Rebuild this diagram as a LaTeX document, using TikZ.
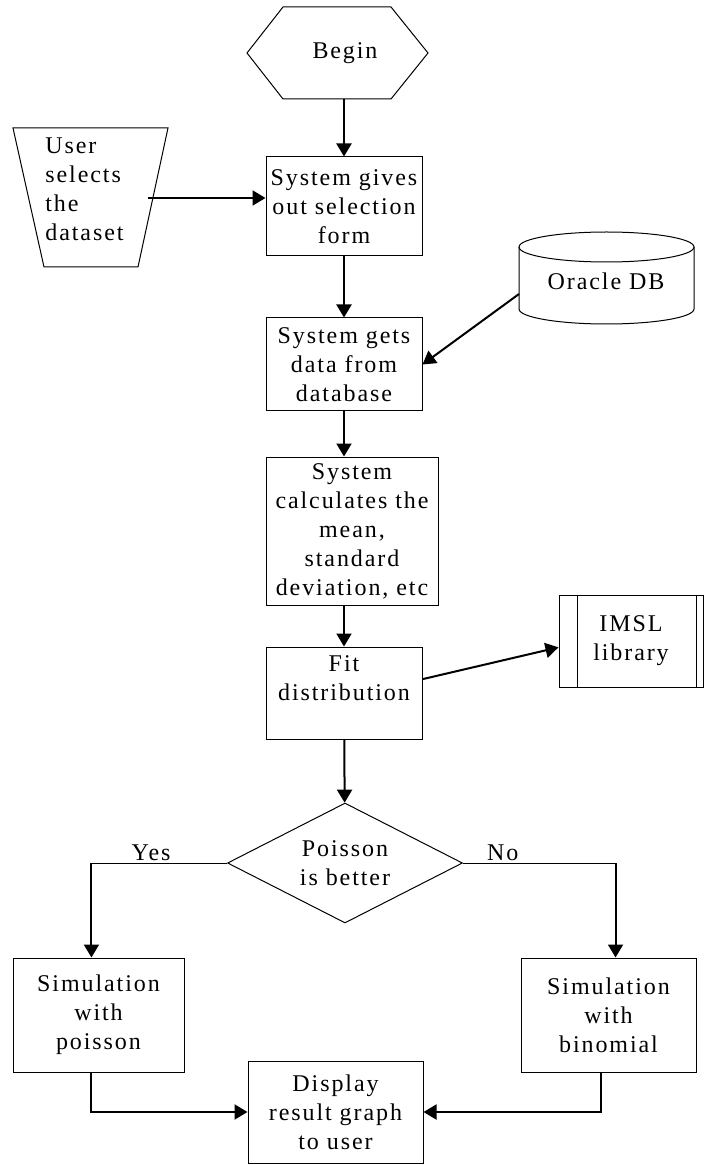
\documentclass[tikz,border=0pt]{standalone}
\usepackage{fontspec}
\setmainfont[LetterSpace=8]{Liberation Serif}
\usetikzlibrary{shapes.geometric,arrows.meta}
\begin{document}
\begin{tikzpicture}[x=0.5pt, y=-0.5pt, >={Triangle[length=6.5pt,width=7.5pt]},
  box/.style={draw, line width=0.5pt, align=center, inner sep=1pt},
  flow/.style={->, line width=1pt},
  font=\fontsize{12}{14.5}\selectfont]
\useasboundingbox (0,0) rectangle (704,1165);
% start and user input
\draw[line width=0.5pt] (247,53) -- (283,7) -- (391,7) -- (428,53) -- (391,99) -- (283,99) -- cycle;
\node (a) at (345,53) {Begin};
\coordinate (aout) at (344,99);
\draw[line width=0.5pt] (13,128) -- (168,128) -- (138,267) -- (44,267) -- cycle;
\node[align=left, anchor=north west, inner sep=0pt] (u) at (45,137) {User\\selects\\the\\dataset};
\coordinate (uout) at (148,198);
% main column
\node[box, minimum width=78pt, minimum height=49.5pt] (b) at (344,206.5) {System gives\\out selection\\form};
\node[box, minimum width=78pt, minimum height=46.5pt] (c) at (344,364.5) {System gets\\data from\\database};
\node[box, minimum width=86pt, minimum height=74pt] (d) at (352,531) {System\\calculates the\\mean,\\standard\\deviation, etc};
\node[box, minimum width=78pt, minimum height=46pt] (e) at (344,693) {Fit\\distribution\\~};
% database and library
\draw[line width=0.5pt] (606.5,247) ellipse [x radius=43.75pt, y radius=7.5pt];
\draw[line width=0.5pt] (519,247) -- (519,309) arc[start angle=180, end angle=360, x radius=43.75pt, y radius=7.5pt] -- (694,247);
\node (db) at (606,281) {Oracle DB};
\coordinate (dbout) at (519,294);
\node[box, minimum width=72pt, minimum height=46pt] (f) at (631,641) {IMSL\\library};
\draw[line width=0.5pt] ([xshift=9.5pt]f.north west) -- ([xshift=9.5pt]f.south west);
\draw[line width=0.5pt] ([xshift=-3.5pt]f.north east) -- ([xshift=-3.5pt]f.south east);
% decision and results
\node[box, diamond, aspect=2, inner sep=0pt, minimum width=117.5pt, minimum height=60pt] (g) at (345,863) {Poisson\\is better};
\node[box, minimum width=85.5pt, minimum height=57pt] (h) at (98.5,1015) {Simulation\\with\\poisson};
\node[box, minimum width=87.5pt, minimum height=57pt] (i) at (608.5,1015) {Simulation\\with\\binomial};
\node[box, minimum width=87.5pt, minimum height=51pt] (j) at (335.5,1112) {Display\\result graph\\to user};
\coordinate (yesturn) at (h.97 |- g.west);
\coordinate (noturn) at (i.83 |- g.east);
% connectors
\draw[flow] (aout) -- (b);
\draw[flow] (uout) -- (uout -| b.west);
\draw[flow] (b) -- (c);
\draw[flow] (dbout) -- (c.east);
\draw[flow] (c.south) -- (c.south |- d.north);
\draw[flow] (d.south -| e.north) -- (e.north);
\draw[flow] (e.10) -- (f.185);
\draw[flow] (e) -- (g);
\draw[line width=0.5pt] (g.west) -- node[above, pos=0.56, inner sep=1pt] {Yes} (yesturn);
\draw[flow] (yesturn) -- (h.97);
\draw[line width=0.5pt] (g.east) -- node[above, pos=0.26, inner sep=1pt] {No} (noturn);
\draw[flow] (noturn) -- (i.83);
\draw[flow] (h.-97) |- (j.west);
\draw[flow] (i.-97) |- (j.east);
\end{tikzpicture}
\end{document}
